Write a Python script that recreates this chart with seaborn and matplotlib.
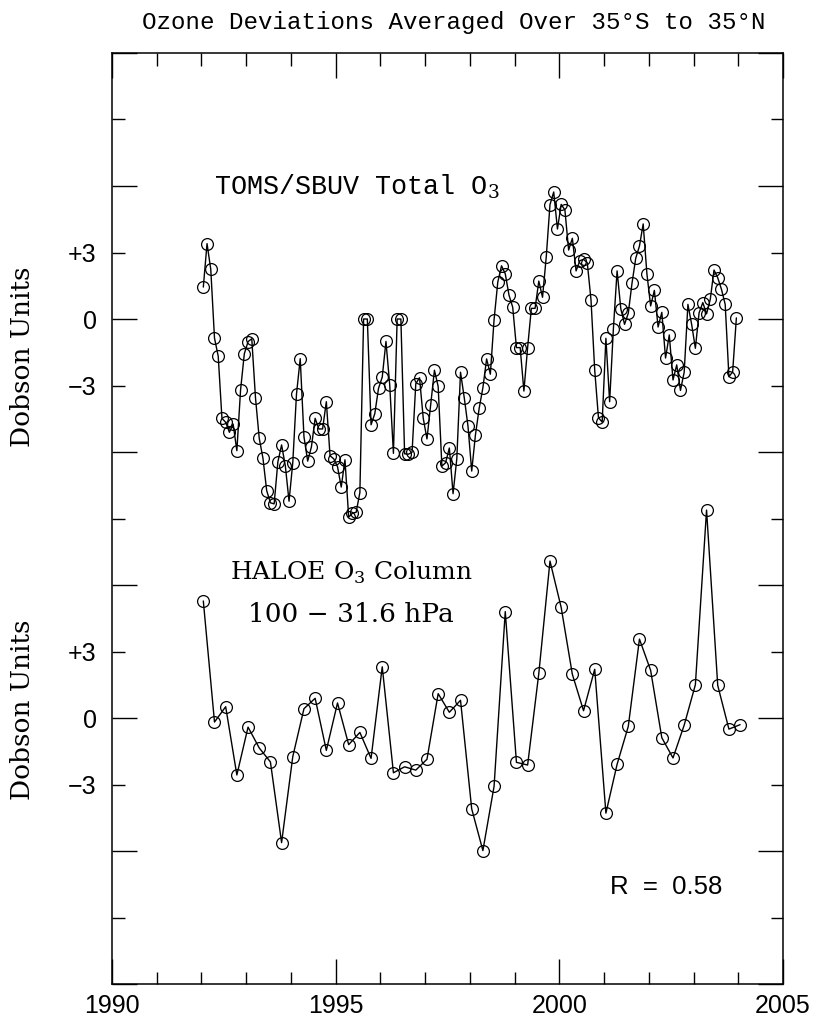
import numpy as np
import pandas as pd
import matplotlib
matplotlib.use('Agg')
import matplotlib.pyplot as plt
import seaborn as sns
from matplotlib.ticker import FixedLocator, FixedFormatter

# TOMS/SBUV total ozone deviations (DU), monthly Jan 1992 - Dec 2003
toms = [1.44, 3.40, 2.24, -0.86, -1.68, -4.48, -4.66, -5.11, -4.74, -5.94, -3.19, -1.57,
        -1.02, -0.89, -3.56, -5.38, -6.28, -7.74, -8.29, -8.34, -6.45, -5.68, -6.62, -8.22,
        -6.48, -3.38, -1.79, -5.31, -6.41, -5.77, -4.48, -4.96, -4.96, -3.73, -6.17, -6.31,
        -6.66, -7.58, -6.35, -8.94, -8.76, -8.72, -7.83, 0.00, 0.00, -4.77, -4.27, -3.13,
        -2.62, -1.01, -2.96, -6.06, 0.00, 0.00, -6.08, -6.10, -6.01, -2.92, -2.65, -4.48,
        -5.41, -3.88, -2.31, -3.04, -6.64, -6.48, -5.82, -7.88, -6.31, -2.40, -3.55, -4.83,
        -6.86, -5.23, -4.03, -3.10, -1.80, -2.49, -0.03, 1.67, 2.40, 2.04, 1.08, 0.53,
        -1.29, -1.29, -3.25, -1.29, 0.48, 0.48, 1.71, 0.98, 2.81, 5.16, 5.73, 4.06,
        5.17, 4.92, 3.11, 3.64, 2.17, 2.63, 2.69, 2.54, 0.87, -2.31, -4.45, -4.65,
        -0.87, -3.73, -0.46, 2.17, 0.46, -0.24, 0.26, 1.61, 2.74, 3.29, 4.29, 2.04,
        0.59, 1.29, -0.36, 0.30, -1.76, -0.72, -2.75, -2.07, -3.22, -2.40, 0.66, -0.24,
        -1.32, 0.28, 0.74, 0.23, 0.89, 2.21, 1.86, 1.34, 0.66, -2.60, -2.39, 0.05]

# HALOE 100 - 31.6 hPa ozone column deviations (DU), quarterly 1992 - 2004
haloe = [5.28, -0.18, 0.51, -2.57, -0.41, -1.35, -1.98, -5.62, -1.74, 0.42, 0.89, -1.46,
         0.68, -1.20, -0.65, -1.82, 2.31, -2.47, -2.20, -2.35, -1.86, 1.10, 0.26, 0.80,
         -4.10, -5.98, -3.08, 4.80, -2.00, -2.12, 2.01, 7.08, 4.99, 1.97, 0.33, 2.20,
         -4.29, -2.09, -0.38, 3.56, 2.15, -0.89, -1.80, -0.32, 1.50, 9.38, 1.47, -0.50,
         -0.30]

toms_offset = 18
toms_time = 1992 + 1 / 24 + np.arange(len(toms)) / 12
haloe_time = 1992 + 1 / 24 + np.arange(len(haloe)) * 0.25

df_toms = pd.DataFrame({'year': toms_time, 'du': np.array(toms) + toms_offset})
df_haloe = pd.DataFrame({'year': haloe_time, 'du': haloe})

sns.set_style('white')
plt.rcParams['text.color'] = 'black'
plt.rcParams['xtick.color'] = 'black'
plt.rcParams['ytick.color'] = 'black'
plt.rcParams['mathtext.fontset'] = 'custom'
plt.rcParams['mathtext.rm'] = 'DejaVu Serif'

fig = plt.figure(figsize=(8.15, 10.21), dpi=100)
ax = fig.add_axes([0.1374, 0.0362, 0.8233, 0.9119])

style = dict(color='black', lw=1.0, marker='o', markersize=8.5,
             markerfacecolor='none', markeredgecolor='black', markeredgewidth=0.9)
sns.lineplot(data=df_toms, x='year', y='du', ax=ax, **style)
sns.lineplot(data=df_haloe, x='year', y='du', ax=ax, **style)

ax.set_xlim(1990, 2005)
ax.set_ylim(-12, 30)
ax.set_xlabel('')
ax.set_ylabel('')

for s in ax.spines.values():
    s.set_linewidth(1.1)
    s.set_color('black')

# x ticks
ax.xaxis.set_major_locator(FixedLocator([1990, 1995, 2000, 2005]))
ax.xaxis.set_minor_locator(FixedLocator(list(range(1991, 2005))))
ax.set_xticklabels(['1990', '1995', '2000', '2005'])

# y ticks: long every 6 DU, short at odd multiples of 3
major_y = list(range(-12, 31, 6))
minor_y = list(range(-9, 30, 6))
major_lab = {18: '0', 0: '0'}
minor_lab = {21: '+3', 15: '\u22123', 3: '+3', -3: '\u22123'}
ax.yaxis.set_major_locator(FixedLocator(major_y))
ax.yaxis.set_major_formatter(FixedFormatter([major_lab.get(v, '') for v in major_y]))
ax.yaxis.set_minor_locator(FixedLocator(minor_y))
ax.yaxis.set_minor_formatter(FixedFormatter([minor_lab.get(v, '') for v in minor_y]))

ax.tick_params(which='both', direction='in', bottom=True, left=True, top=True, right=True,
               color='black', width=1.0, labelcolor='black')
ax.tick_params(which='major', length=18)
ax.tick_params(which='minor', length=9)
ax.tick_params(axis='x', which='both', pad=7, labelsize=18)
ax.tick_params(axis='y', which='both', pad=11, labelsize=18)
for lab in ax.get_xticklabels() + ax.get_yticklabels() + ax.get_yticklabels(minor=True):
    lab.set_fontfamily('Liberation Sans')

# labels
ax.text(1992.28, 23.95, 'TOMS/SBUV Total O$_3$', family='Liberation Mono', fontsize=19.3,
        ha='left', va='center')
ax.text(1995.35, 6.54, 'HALOE O$_3$ Column', family='DejaVu Serif', fontsize=18,
        ha='center', va='center')
ax.text(1995.34, 4.65, '100 \u2212 31.6 hPa', family='DejaVu Serif', fontsize=19,
        ha='center', va='center')
ax.text(2002.39, -7.62, 'R  =  0.58', family='Liberation Sans', fontsize=18.5,
        ha='center', va='center')

fig.text(0.557, 0.978, 'Ozone Deviations Averaged Over 35\u00b0S to 35\u00b0N',
         family='Liberation Mono', fontsize=17.4, ha='center', va='center')
fig.text(0.027, 0.651, 'Dobson Units', family='DejaVu Serif', fontsize=19,
         rotation=90, ha='center', va='center')
fig.text(0.027, 0.305, 'Dobson Units', family='DejaVu Serif', fontsize=19,
         rotation=90, ha='center', va='center')

fig.savefig('out.png', dpi=100)
